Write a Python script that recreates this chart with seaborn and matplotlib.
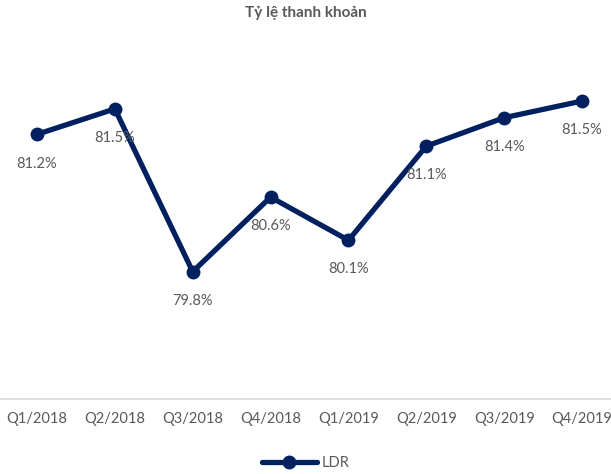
import pandas as pd
import seaborn as sns
import matplotlib.pyplot as plt

# du lieu doc tu hinh
quarters = ["Q1/2018", "Q2/2018", "Q3/2018", "Q4/2018",
            "Q1/2019", "Q2/2019", "Q3/2019", "Q4/2019"]
ldr = [81.20, 81.46, 79.80, 80.56, 80.12, 81.08, 81.37, 81.54]

NAVY = "#002060"
GREY = "#595959"

sns.set_style("white")
plt.rcParams['font.family'] = ['Lato', 'DejaVu Sans']

df = pd.DataFrame({"quy": quarters, "LDR": ldr})

fig = plt.figure(figsize=(6.11, 4.74), dpi=100)
ax = fig.add_axes([0, 0.158, 1, 0.724])

sns.lineplot(data=df, x="quy", y="LDR", ax=ax, color=NAVY, linewidth=3.8,
             marker="o", markersize=10, markeredgewidth=0, label="LDR")

for i, v in enumerate(ldr):
    ax.annotate(f"{v:.1f}%", (i, v), textcoords="offset points", xytext=(0, -21),
                ha="center", va="center", fontsize=10.5, color=GREY)

ax.set_xlim(-0.475, 7.372)
ax.set_ylim(78.5, 82.0)
ax.set_xlabel("")
ax.set_ylabel("")
ax.set_yticks([])
ax.tick_params(axis="x", length=0, pad=9, labelsize=10.5, labelcolor=GREY)

for s in ["top", "left", "right"]:
    ax.spines[s].set_visible(False)
ax.spines["bottom"].set_color("#d9d9d9")
ax.spines["bottom"].set_linewidth(1.2)

fig.text(0.5, 1 - 13 / 474, "Tỷ lệ thanh khoản", ha="center", va="center",
         fontsize=11, fontweight="bold", color=GREY)

leg = ax.legend(loc="center", bbox_to_anchor=(0.5, -0.186), frameon=False,
                fontsize=10.5, handlelength=3.8, handletextpad=0.3)
for t in leg.get_texts():
    t.set_color(GREY)

fig.savefig("out.png", dpi=100)
